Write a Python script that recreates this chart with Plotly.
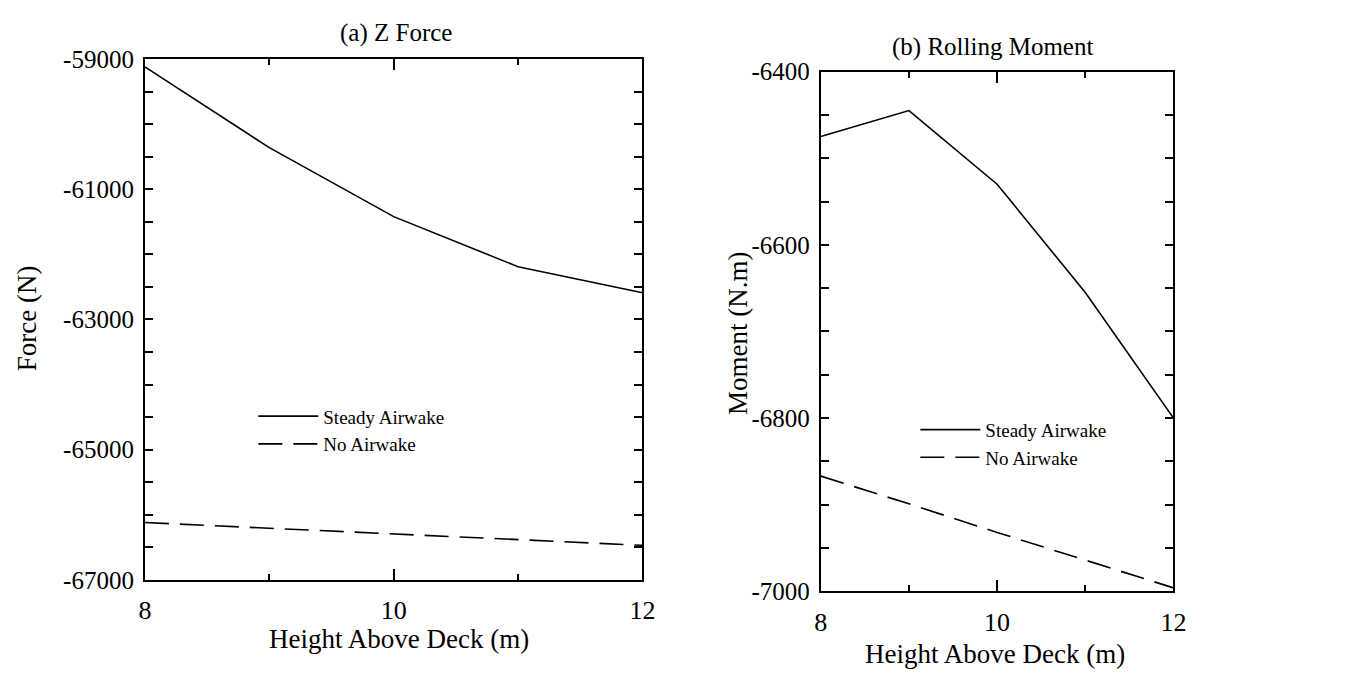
import plotly.graph_objects as go

# ---- data ----
height_m = [8, 9, 10, 11, 12]
z_force_steady = [-59120, -60360, -61420, -62190, -62590]
z_force_none = [-66120, -66210, -66300, -66380, -66470]
roll_steady = [-6475, -6445, -6530, -6655, -6800]
roll_none = [-6867, -6899, -6932, -6964, -6996]

x_major = [8, 10, 12]
x_minor = [9, 11]
z_ticks = [-67000, -65000, -63000, -61000, -59000]
z_minor = [-66500, -66000, -65500, -64500, -64000, -63500, -62500, -62000, -61500, -60500, -60000, -59500]
r_ticks = [-7000, -6800, -6600, -6400]
r_minor = [-6950, -6900, -6850, -6750, -6700, -6650, -6550, -6500, -6450]

series_names = ["Steady Airwake", "No Airwake"]

FONT = "Liberation Serif"
W, H = 1351, 687
DASH = "24px,11px"

fig = go.Figure()
fig.add_trace(go.Scatter(x=height_m, y=z_force_steady, mode="lines", name=series_names[0],
                         line=dict(color="black", width=1.6), xaxis="x", yaxis="y", legend="legend"))
fig.add_trace(go.Scatter(x=height_m, y=z_force_none, mode="lines", name=series_names[1],
                         line=dict(color="black", width=1.6, dash=DASH), xaxis="x", yaxis="y", legend="legend"))
fig.add_trace(go.Scatter(x=height_m, y=roll_steady, mode="lines", name=series_names[0],
                         line=dict(color="black", width=1.6), xaxis="x2", yaxis="y2", legend="legend2"))
fig.add_trace(go.Scatter(x=height_m, y=roll_none, mode="lines", name=series_names[1],
                         line=dict(color="black", width=1.6, dash=DASH), xaxis="x2", yaxis="y2", legend="legend2"))

def px_x(p):
    return p / W

def px_y(p):
    return 1 - p / H

common_x = dict(range=[8, 12], tickvals=x_major, ticktext=[str(v) for v in x_major],
                ticks="inside", ticklen=11, tickwidth=1.5, tickcolor="black",
                showline=True, linecolor="black", linewidth=2, mirror="allticks",
                showgrid=False, zeroline=False, ticklabelstandoff=6,
                tickfont=dict(family=FONT, size=26, color="black"),
                minor=dict(tickvals=x_minor, ticks="inside", ticklen=6, tickwidth=1.5, tickcolor="black", showgrid=False))

def common_y(rng, ticks, minor):
    return dict(range=rng, tickvals=ticks, ticktext=[str(v) for v in ticks],
                ticks="inside", ticklen=8, tickwidth=1.5, tickcolor="black",
                showline=True, linecolor="black", linewidth=2, mirror="allticks",
                showgrid=False, zeroline=False, ticklabelstandoff=4,
                tickfont=dict(family=FONT, size=25, color="black"),
                minor=dict(tickvals=minor, ticks="inside", ticklen=8, tickwidth=1.5, tickcolor="black", showgrid=False))

LEG_FONT = dict(family=FONT, size=19, color="black")

fig.update_layout(
    width=W, height=H,
    margin=dict(l=0, r=0, t=0, b=0),
    paper_bgcolor="white", plot_bgcolor="white",
    font=dict(family=FONT, color="black"),
    xaxis=dict(domain=[px_x(140), px_x(645)], anchor="y", **common_x),
    yaxis=dict(domain=[px_y(590), px_y(48)], anchor="x", **common_y([-67000, -59000], z_ticks, z_minor)),
    xaxis2=dict(domain=[px_x(826), px_x(1184)], anchor="y2", **common_x),
    yaxis2=dict(domain=[px_y(602), px_y(61)], anchor="x2", **common_y([-7000, -6400], r_ticks, r_minor)),
    legend=dict(x=px_x(250), y=px_y(400), xanchor="left", yanchor="top", bgcolor="rgba(0,0,0,0)",
                font=LEG_FONT, tracegroupgap=0, itemwidth=60),
    legend2=dict(x=px_x(922), y=px_y(414), xanchor="left", yanchor="top", bgcolor="rgba(0,0,0,0)",
                 font=LEG_FONT, tracegroupgap=0, itemwidth=60),
    annotations=[
        dict(text="(a) Z Force", x=px_x(395), y=px_y(21), xref="paper", yref="paper", showarrow=False,
             font=dict(family=FONT, size=25), xanchor="center", yanchor="middle"),
        dict(text="(b) Rolling Moment", x=px_x(1000), y=px_y(35), xref="paper", yref="paper", showarrow=False,
             font=dict(family=FONT, size=25), xanchor="center", yanchor="middle"),
        dict(text="Height Above Deck (m)", x=px_x(398), y=px_y(652), xref="paper", yref="paper", showarrow=False,
             font=dict(family=FONT, size=27), xanchor="center", yanchor="middle"),
        dict(text="Height Above Deck (m)", x=px_x(1003), y=px_y(667), xref="paper", yref="paper", showarrow=False,
             font=dict(family=FONT, size=27), xanchor="center", yanchor="middle"),
        dict(text="Force (N)", x=px_x(20), y=px_y(318), xref="paper", yref="paper", showarrow=False,
             font=dict(family=FONT, size=27), textangle=-90, xanchor="center", yanchor="middle"),
        dict(text="Moment (N.m)", x=px_x(742), y=px_y(334), xref="paper", yref="paper", showarrow=False,
             font=dict(family=FONT, size=27), textangle=-90, xanchor="center", yanchor="middle"),
    ],
)

fig.write_html("out.html", config={"displayModeBar": False},
               post_script="document.body.style.margin='0';document.body.style.overflow='hidden';")
